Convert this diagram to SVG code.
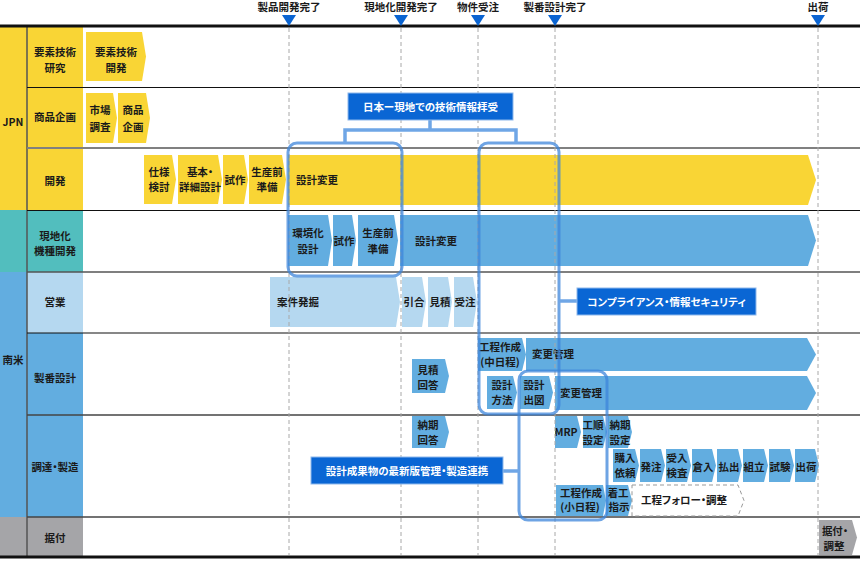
<svg xmlns="http://www.w3.org/2000/svg" width="860" height="562" viewBox="0 0 860 562">
<defs>
<style>
text{font-family:"Noto Sans CJK JP","Noto Sans",sans-serif;font-weight:bold;font-size:10.5px;fill:#1a1a1a;font-feature-settings:"palt"}
.c{text-anchor:middle}
.w{fill:#fff}
.y{fill:#F9D535}
.b{fill:#62ADE0}
.lb{fill:#B5D8F0}
.g{fill:#A5A5A8}
.box{fill:#0A66D4;stroke:#8DB8EC;stroke-width:1}
.ms{fill:#0A64D2}
.dash{stroke:#A8A8A8;stroke-width:1;stroke-dasharray:4 3;fill:none}
.hl{fill:none;stroke:#3D85DB;stroke-width:3;stroke-opacity:0.75}
.con{fill:none;stroke:#6FA6E6;stroke-width:3.5}
.ln{stroke:#111;stroke-width:1.2}
</style>
</defs>

<!-- lane backgrounds -->
<g id="lanes">
<rect x="0" y="27" width="83" height="183" class="y"/>
<rect x="0" y="210" width="83" height="62" fill="#52BEBE"/>
<rect x="0" y="272" width="27" height="245" class="b"/>
<rect x="27" y="272" width="56" height="61" class="lb"/>
<rect x="27" y="333" width="56" height="184" class="b"/>
<rect x="0" y="517" width="83" height="39" class="g"/>
<line x1="27" y1="27" x2="27" y2="556" stroke="#555" stroke-width="1.5"/>
<line x1="27" y1="87.5" x2="860" y2="87.5" class="ln"/>
<line x1="27" y1="148" x2="860" y2="148" stroke="#808080" stroke-width="2"/>
<line x1="27" y1="210.5" x2="860" y2="210.5" class="ln"/>
<line x1="27" y1="272" x2="860" y2="272" stroke="#555" stroke-width="1.6"/>
<line x1="27" y1="333" x2="860" y2="333" class="ln"/>
<line x1="27" y1="415" x2="860" y2="415" stroke="#444" stroke-width="1.6"/>
<line x1="27" y1="517" x2="860" y2="517" stroke="#444" stroke-width="1.6"/>
<line x1="0" y1="26" x2="860" y2="26" stroke="#111" stroke-width="3"/>
<line x1="0" y1="557" x2="860" y2="557" stroke="#111" stroke-width="3"/>
<text x="13" y="126" class="c">JPN</text>
<text x="13" y="364" class="c">南米</text>
<text x="55" y="56" class="c">要素技術</text>
<text x="55" y="72" class="c">研究</text>
<text x="55" y="121" class="c">商品企画</text>
<text x="55" y="185" class="c">開発</text>
<text x="55" y="240" class="c">現地化</text>
<text x="55" y="255" class="c">機種開発</text>
<text x="55" y="306" class="c">営業</text>
<text x="55" y="382" class="c">製番設計</text>
<text x="55" y="471" class="c">調達・製造</text>
<text x="55" y="542" class="c">据付</text>
</g>

<!-- milestones -->
<g id="milestones">
<polygon points="282,15 296,15 289,26" class="ms"/>
<polygon points="394,15 408,15 401,26" class="ms"/>
<polygon points="471,15 485,15 478,26" class="ms"/>
<polygon points="548,15 562,15 555,26" class="ms"/>
<polygon points="811,15 825,15 818,26" class="ms"/>
<text x="289" y="11" class="c">製品開発完了</text>
<text x="401" y="11" class="c">現地化開発完了</text>
<text x="478" y="11" class="c">物件受注</text>
<text x="555" y="11" class="c">製番設計完了</text>
<text x="818" y="11" class="c">出荷</text>
</g>

<!-- row 1 -->
<g id="n-yoso"><polygon points="86,32 142,32 146,56.5 142,81 86,81" class="y"/><text x="116" y="56" class="c">要素技術</text><text x="116" y="72" class="c">開発</text></g>
<!-- row 2 -->
<g id="n-shijo"><polygon points="86,93 113,93 117,118 113,143 86,143" class="y"/><text x="100" y="114" class="c">市場</text><text x="100" y="131" class="c">調査</text></g>
<g id="n-shohin"><polygon points="118,93 146,93 150,118 146,143 118,143" class="y"/><text x="133" y="114" class="c">商品</text><text x="133" y="131" class="c">企画</text></g>
<!-- row 3 -->
<g id="n-shiyo"><polygon points="144,155 172,155 176,179.5 172,204 144,204" class="y"/><text x="159" y="176" class="c">仕様</text><text x="159" y="191" class="c">検討</text></g>
<g id="n-kihon"><polygon points="178,155 218,155 222,179.5 218,204 178,204" class="y"/><text x="200" y="176" class="c">基本・</text><text x="200" y="191" class="c">詳細設計</text></g>
<g id="n-shisaku1"><polygon points="223,155 244,155 248,179.5 244,204 223,204" class="y"/><text x="235" y="184" class="c">試作</text></g>
<g id="n-seisan1"><polygon points="249,155 282,155 286,179.5 282,204 249,204" class="y"/><text x="267" y="176" class="c">生産前</text><text x="267" y="191" class="c">準備</text></g>
<g id="n-henko1"><polygon points="288,155 808,155 816,180 808,205 288,205" class="y"/><text x="296" y="184">設計変更</text></g>
<!-- row 4 -->
<g id="n-kankyo"><polygon points="288,215 328,215 332,240.5 328,266 288,266" class="b"/><text x="308" y="237" class="c">環境化</text><text x="308" y="253" class="c">設計</text></g>
<g id="n-shisaku2"><polygon points="333,215 352,215 356,240.5 352,266 333,266" class="b"/><text x="344" y="245" class="c">試作</text></g>
<g id="n-seisan2"><polygon points="358,215 394,215 398,240.5 394,266 358,266" class="b"/><text x="378" y="237" class="c">生産前</text><text x="378" y="253" class="c">準備</text></g>
<g id="n-henko2"><polygon points="400,215 808,215 816,240.5 808,266 400,266" class="b"/><text x="415" y="245">設計変更</text></g>
<!-- row 5 -->
<g id="n-anken"><polygon points="270,277 396,277 400,302 396,327 270,327" class="lb"/><text x="277" y="306">案件発掘</text></g>
<g id="n-hikiai"><polygon points="402,277 422,277 426,302 422,327 402,327" class="lb"/><text x="414" y="306" class="c">引合</text></g>
<g id="n-mitsumori"><polygon points="428,277 448,277 452,302 448,327 428,327" class="lb"/><text x="440" y="306" class="c">見積</text></g>
<g id="n-juchu"><polygon points="454,277 473,277 477,302 473,327 454,327" class="lb"/><text x="465" y="306" class="c">受注</text></g>
<!-- row 6 -->
<g id="n-mitsukaito"><polygon points="412,359 445,359 449,376 445,393 412,393" class="b"/><text x="428" y="374" class="c">見積</text><text x="428" y="389" class="c">回答</text></g>
<g id="n-koutei1"><polygon points="478,338 522,338 526,354.5 522,371 478,371" class="b"/><text x="500" y="351" class="c">工程作成</text><text x="500" y="366" class="c">(中日程)</text></g>
<g id="n-kanri1"><polygon points="526,338 807,338 816,354.5 807,371 526,371" class="b"/><text x="532" y="358">変更管理</text></g>
<g id="n-hoho"><polygon points="487,376 513,376 517,392.5 513,409 487,409" class="b"/><text x="502" y="389" class="c">設計</text><text x="502" y="404" class="c">方法</text></g>
<g id="n-shutsuzu"><polygon points="520,376 549,376 553,392.5 549,409 520,409" class="b"/><text x="534" y="389" class="c">設計</text><text x="534" y="404" class="c">出図</text></g>
<g id="n-kanri2"><polygon points="555,376 807,376 816,393 807,410 555,410" class="b"/><text x="560" y="397">変更管理</text></g>
<!-- row 7 -->
<g id="n-noukikaito"><polygon points="412,416 445,416 449,432 445,448 412,448" class="b"/><text x="428" y="429" class="c">納期</text><text x="428" y="444" class="c">回答</text></g>
<g id="n-mrp"><polygon points="555,416 577,416 581,432 577,448 555,448" class="b"/><text x="566" y="436" class="c">MRP</text></g>
<g id="n-koujun"><polygon points="583,416 603,416 607,432 603,448 583,448" class="b"/><text x="593" y="429" class="c">工順</text><text x="593" y="444" class="c">設定</text></g>
<g id="n-noukisettei"><polygon points="608,416 628,416 632,432 628,448 608,448" class="b"/><text x="620" y="429" class="c">納期</text><text x="620" y="444" class="c">設定</text></g>
<g id="n-kounyu"><polygon points="613,449 635,449 639,465.5 635,482 613,482" class="b"/><text x="625" y="462" class="c">購入</text><text x="625" y="477" class="c">依頼</text></g>
<g id="n-hatchu"><polygon points="640,449 661,449 665,465.5 661,482 640,482" class="b"/><text x="651" y="471" class="c">発注</text></g>
<g id="n-ukeire"><polygon points="666,449 687,449 691,465.5 687,482 666,482" class="b"/><text x="677" y="462" class="c">受入</text><text x="677" y="477" class="c">検査</text></g>
<g id="n-kurairi"><polygon points="692,449 712,449 716,465.5 712,482 692,482" class="b"/><text x="703" y="471" class="c">倉入</text></g>
<g id="n-haraidashi"><polygon points="717,449 738,449 742,465.5 738,482 717,482" class="b"/><text x="729" y="471" class="c">払出</text></g>
<g id="n-kumitate"><polygon points="743,449 764,449 768,465.5 764,482 743,482" class="b"/><text x="754" y="471" class="c">組立</text></g>
<g id="n-shiken"><polygon points="769,449 790,449 794,465.5 790,482 769,482" class="b"/><text x="780" y="471" class="c">試験</text></g>
<g id="n-shukka"><polygon points="795,449 815,449 819,465.5 815,482 795,482" class="b"/><text x="806" y="471" class="c">出荷</text></g>
<g id="n-koutei2"><polygon points="556,485 603,485 606,500.5 603,516 556,516" class="b"/><text x="581" y="497" class="c">工程作成</text><text x="580" y="511" class="c">(小日程)</text></g>
<g id="n-chakko"><polygon points="606,485 628,485 632,500.5 628,516 606,516" class="b"/><text x="618" y="497" class="c">着工</text><text x="619" y="511" class="c">指示</text></g>
<g id="n-follow"><polygon points="632,485 738,485 744,500.5 738,516 632,516" fill="#fff" stroke="#999" stroke-width="1" stroke-dasharray="4 3"/><text x="641" y="504">工程フォロー・調整</text></g>
<!-- row 8 -->
<g id="n-suetsuke"><polygon points="819,520 852,520 857,537.5 852,555 819,555" class="g"/><text x="835" y="535" class="c">据付・</text><text x="834" y="550" class="c">調整</text></g>

<!-- milestone dashed lines -->
<g id="guides">
<line x1="289" y1="28" x2="289" y2="555" class="dash"/>
<line x1="401" y1="28" x2="401" y2="555" class="dash"/>
<line x1="478" y1="28" x2="478" y2="555" class="dash"/>
<line x1="555" y1="28" x2="555" y2="555" class="dash"/>
<line x1="818" y1="28" x2="818" y2="555" class="dash"/>
</g>

<!-- highlight frames -->
<g id="hl-a"><rect x="288" y="143" width="114" height="133" rx="9" class="hl"/></g>
<g id="hl-b"><rect x="479" y="143" width="80" height="271" rx="9" class="hl"/></g>
<g id="hl-c"><rect x="519" y="371" width="88" height="149" rx="9" class="hl"/></g>

<!-- connectors -->
<g id="connectors">
<path d="M430,120 V130 M345,143 V130 H516 V143" class="con"/>
<path d="M560,301 H577" class="con"/>
<path d="M503,471 H519" class="con"/>
</g>

<!-- blue labels -->
<g id="b-gijutsu"><rect x="348" y="93" width="165" height="27" class="box"/><text x="430.5" y="111" class="c w">日本ー現地での技術情報拝受</text></g>
<g id="b-compliance"><rect x="577" y="288" width="179" height="27" class="box"/><text x="666.5" y="306" class="c w">コンプライアンス・情報セキュリティ</text></g>
<g id="b-seika"><rect x="311" y="457" width="192" height="27" class="box"/><text x="407" y="475" class="c w">設計成果物の最新版管理・製造連携</text></g>
</svg>
